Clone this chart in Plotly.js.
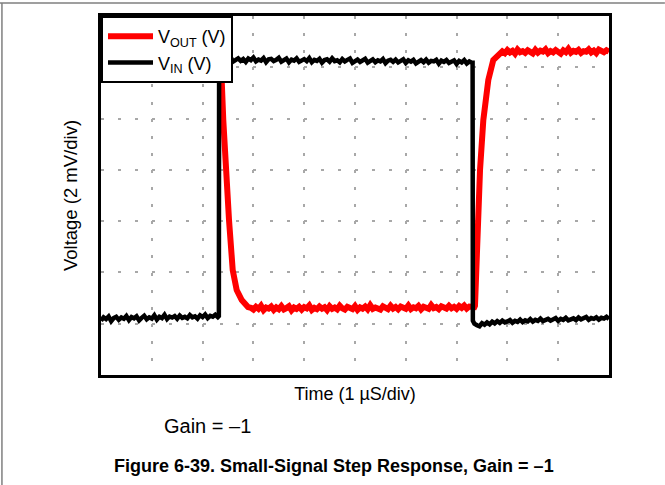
<!DOCTYPE html>
<html>
<head>
<meta charset="utf-8">
<script src="https://cdn.plot.ly/plotly-3.0.1.min.js"></script>
<style>
  html, body { margin: 0; padding: 0; background: #fff; }
  #chart { width: 665px; height: 485px; }
</style>
</head>
<body>
<div id="chart"></div>
<script>
// Time in microseconds (1 µs/div), voltage in mV (2 mV/div)
const vinTime = [
  0.00,0.05,0.10,0.15,0.20,0.25,0.30,0.35,0.40,0.45,0.50,0.55,0.60,0.65,0.70,0.75,0.80,0.85,0.90,0.95,
  1.00,1.05,1.10,1.15,1.20,1.25,1.30,1.35,1.40,1.45,1.50,1.55,1.60,1.65,1.70,1.75,1.80,1.85,1.90,1.95,
  2.00,2.05,2.10,2.15,2.20,2.25,2.30,
  2.32,2.325,
  2.35,2.40,2.45,2.50,2.55,2.60,2.65,2.70,2.75,2.80,
  2.85,2.90,2.95,3.00,3.05,3.10,3.15,3.20,3.25,3.30,
  3.35,3.40,3.45,3.50,3.55,3.60,3.65,3.70,3.75,3.80,
  3.85,3.90,3.95,4.00,4.05,4.10,4.15,4.20,4.25,4.30,
  4.35,4.40,4.45,4.50,4.55,4.60,4.65,4.70,4.75,4.80,
  4.85,4.90,4.95,5.00,5.05,5.10,5.15,5.20,5.25,5.30,
  5.35,5.40,5.45,5.50,5.55,5.60,5.65,5.70,5.75,5.80,
  5.85,5.90,5.95,6.00,6.05,6.10,6.15,6.20,6.25,6.30,
  6.35,6.40,6.45,6.50,6.55,6.60,6.65,6.70,6.75,6.80,
  6.85,6.90,6.95,7.00,7.05,7.10,7.15,7.20,7.25,7.30,
  7.315,7.32,
  7.35,7.40,7.45,7.50,7.55,7.60,7.65,7.70,7.75,7.80,
  7.85,7.90,7.95,8.00,8.05,8.10,8.15,8.20,8.25,8.30,
  8.35,8.40,8.45,8.50,8.55,8.60,8.65,8.70,8.75,8.80,
  8.85,8.90,8.95,9.00,9.05,9.10,9.15,9.20,9.25,9.30,
  9.35,9.40,9.45,9.50,9.55,9.60,9.65,9.70,9.75,9.80,
  9.85,9.90,9.95,10.00
];
const vinVolt = [
  2.12,2.25,2.18,2.28,2.10,2.22,2.27,2.15,2.24,2.19,2.30,2.14,2.26,2.21,2.29,2.13,2.23,2.31,2.17,2.25,
  2.20,2.33,2.16,2.27,2.22,2.35,2.18,2.28,2.24,2.30,2.19,2.32,2.23,2.27,2.21,2.34,2.25,2.29,2.20,2.33,
  2.26,2.36,2.22,2.31,2.27,2.35,2.26,
  2.30,12.30,
  12.36,12.24,12.33,12.27,12.40,12.22,12.31,12.35,12.25,12.32,
  12.21,12.34,12.28,12.38,12.23,12.30,12.26,12.36,12.20,12.31,
  12.33,12.24,12.29,12.37,12.22,12.28,12.34,12.19,12.30,12.26,
  12.35,12.21,12.27,12.32,12.24,12.36,12.20,12.29,12.25,12.33,
  12.18,12.28,12.31,12.22,12.35,12.24,12.27,12.19,12.32,12.23,
  12.29,12.34,12.17,12.26,12.30,12.21,12.28,12.33,12.18,12.25,
  12.31,12.20,12.27,12.23,12.32,12.16,12.26,12.29,12.21,12.30,
  12.19,12.25,12.31,12.17,12.27,12.22,12.29,12.15,12.24,12.28,
  12.20,12.30,12.18,12.25,12.23,12.29,12.14,12.26,12.21,12.28,
  12.17,12.24,12.27,12.13,12.25,12.19,12.28,12.15,12.23,12.18,
  12.18,2.12,
  2.00,1.94,1.90,2.02,1.96,2.05,1.98,2.08,2.01,2.10,
  2.03,2.12,2.05,2.09,2.14,2.04,2.11,2.07,2.16,2.06,
  2.13,2.09,2.18,2.08,2.15,2.11,2.20,2.10,2.14,2.19,
  2.12,2.17,2.22,2.11,2.19,2.15,2.23,2.13,2.18,2.21,
  2.14,2.24,2.17,2.20,2.26,2.15,2.22,2.19,2.25,2.16,
  2.23,2.20,2.27,2.18
];
const voutTime = [
  0.0,0.5,1.0,1.5,2.0,2.3,
  2.34,2.376,2.407,2.455,2.52,2.593,2.671,2.77,2.894,
  2.95,3.00,3.05,3.10,3.15,3.20,3.25,3.30,3.35,3.40,
  3.45,3.50,3.55,3.60,3.65,3.70,3.75,3.80,3.85,3.90,
  3.95,4.00,4.05,4.10,4.15,4.20,4.25,4.30,4.35,4.40,
  4.45,4.50,4.55,4.60,4.65,4.70,4.75,4.80,4.85,4.90,
  4.95,5.00,5.05,5.10,5.15,5.20,5.25,5.30,5.35,5.40,
  5.45,5.50,5.55,5.60,5.65,5.70,5.75,5.80,5.85,5.90,
  5.95,6.00,6.05,6.10,6.15,6.20,6.25,6.30,6.35,6.40,
  6.45,6.50,6.55,6.60,6.65,6.70,6.75,6.80,6.85,6.90,
  6.95,7.00,7.05,7.10,7.15,7.20,7.25,7.30,7.35,
  7.362,7.382,7.415,7.461,7.526,7.624,7.722,7.854,
  7.90,7.95,8.00,8.05,8.10,8.15,8.20,8.25,8.30,8.35,
  8.40,8.45,8.50,8.55,8.60,8.65,8.70,8.75,8.80,8.85,
  8.90,8.95,9.00,9.05,9.10,9.15,9.20,9.25,9.30,9.35,
  9.40,9.45,9.50,9.55,9.60,9.65,9.70,9.75,9.80,9.85,
  9.90,9.95,10.00
];
const voutVolt = [
  12.60,12.68,12.57,12.66,12.58,12.64,
  12.30,11.50,9.94,7.99,6.04,4.09,3.31,2.92,2.65,
  2.62,2.55,2.66,2.58,2.70,2.53,2.63,2.59,2.67,2.54,
  2.64,2.57,2.69,2.56,2.61,2.68,2.52,2.63,2.58,2.66,
  2.55,2.65,2.60,2.71,2.54,2.62,2.57,2.67,2.59,2.64,
  2.53,2.68,2.58,2.63,2.56,2.70,2.60,2.55,2.66,2.61,
  2.57,2.69,2.54,2.64,2.59,2.67,2.56,2.72,2.58,2.63,
  2.60,2.55,2.68,2.62,2.57,2.70,2.59,2.65,2.56,2.67,
  2.61,2.58,2.71,2.57,2.64,2.60,2.69,2.56,2.66,2.62,
  2.58,2.73,2.61,2.65,2.57,2.68,2.63,2.59,2.70,2.60,
  2.66,2.58,2.69,2.62,2.71,2.59,2.67,2.63,2.65,
  2.70,4.09,6.04,7.99,9.94,11.50,12.28,12.55,
  12.62,12.55,12.67,12.58,12.64,12.53,12.69,12.59,12.63,12.56,
  12.66,12.60,12.54,12.68,12.57,12.65,12.61,12.70,12.55,12.63,
  12.58,12.67,12.62,12.53,12.66,12.59,12.72,12.57,12.64,12.60,
  12.68,12.56,12.63,12.61,12.70,12.58,12.65,12.55,12.69,12.62,
  12.59,12.66,12.61
];
const seriesNames = ['V<sub>OUT</sub> (V)', 'V<sub>IN</sub> (V)'];
const xTitle = 'Time (1 µS/div)';
const yTitle = 'Voltage (2 mV/div)';
const noteText = 'Gain = \u20131';
const captionText = '<b>Figure 6-39. Small-Signal Step Response, Gain = \u20131</b>';

const FONT = 'Arial, "Liberation Sans", Helvetica, sans-serif';

const traces = [
  { x: voutTime, y: voutVolt, name: seriesNames[0], type: 'scatter', mode: 'lines',
    line: { color: '#ff0000', width: 6 } },
  { x: vinTime, y: vinVolt, name: seriesNames[1], type: 'scatter', mode: 'lines',
    line: { color: '#000000', width: 4.5 } }
];

const layout = {
  width: 665, height: 485,
  margin: { l: 101, r: 56, t: 16, b: 110 },
  paper_bgcolor: '#ffffff', plot_bgcolor: '#ffffff',
  font: { family: FONT, color: '#000' },
  showlegend: true,
  legend: {
    x: 0, y: 1, xanchor: 'left', yanchor: 'top',
    bgcolor: '#ffffff', bordercolor: '#000000', borderwidth: 2,
    font: { family: FONT, size: 18, color: '#000' },
    itemwidth: 45
  },
  xaxis: {
    range: [0, 10], dtick: 1, tick0: 0,
    showticklabels: false, ticks: '',
    showgrid: true, gridcolor: '#a8a8a8', gridwidth: 2, griddash: '3px,14.1px',
    zeroline: false,
    showline: true, mirror: true, linecolor: '#000', linewidth: 3,
    title: { text: xTitle, font: { family: FONT, size: 18, color: '#000' }, standoff: 11 },
    fixedrange: true
  },
  yaxis: {
    range: [0, 14], dtick: 2, tick0: 0,
    showticklabels: false, ticks: '',
    showgrid: true, gridcolor: '#a8a8a8', gridwidth: 2, griddash: '3px,13.93px',
    zeroline: false,
    showline: true, mirror: true, linecolor: '#000', linewidth: 3,
    title: { text: yTitle, font: { family: FONT, size: 18.5, color: '#000' }, standoff: 16 },
    fixedrange: true
  },
  annotations: [
    { text: noteText, xref: 'paper', yref: 'paper', x: 0.12, y: -0.142,
      xanchor: 'left', yanchor: 'middle', showarrow: false,
      font: { family: FONT, size: 20, color: '#000' } },
    { text: captionText, xref: 'paper', yref: 'paper', x: 0.4587, y: -0.2535,
      xanchor: 'center', yanchor: 'middle', showarrow: false,
      font: { family: FONT, size: 18, color: '#000' } }
  ],
  shapes: [
    { type: 'line', xref: 'paper', yref: 'paper', x0: -0.2, x1: 1.11, y0: 1.036, y1: 1.036,
      line: { color: '#7f7f7f', width: 1.5 } },
    { type: 'line', xref: 'paper', yref: 'paper', x0: -0.195, x1: -0.195, y0: 1.036, y1: -0.31,
      line: { color: '#7f7f7f', width: 1.5 } }
  ]
};

Plotly.newPlot('chart', traces, layout, { staticPlot: true, displayModeBar: false });
</script>
</body>
</html>
